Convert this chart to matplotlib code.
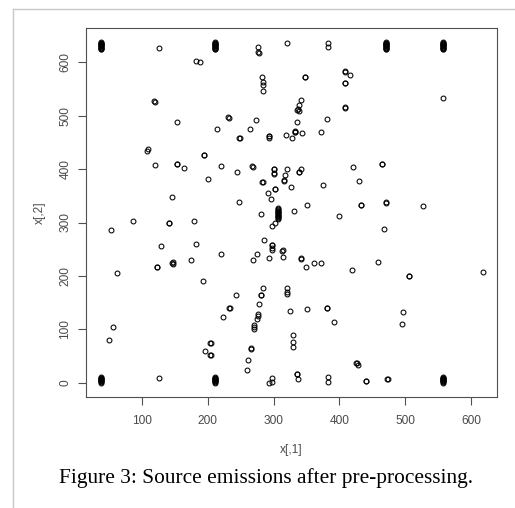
#!/usr/bin/env python3
"""
Scatter of source emission positions (x[,1] vs x[,2]) after pre-processing,
drawn in the plain base-R style with open circles and a serif figure caption.
"""

import matplotlib

matplotlib.use("Agg")
import matplotlib.pyplot as plt
from matplotlib.lines import Line2D

# Stacked sources at the grid corners: many emissions sharing one x position
STACK_TOP_X = [39, 211, 471, 557]
STACK_TOP_Y = [625, 626, 627, 628, 629, 630, 631, 632, 633, 634, 635, 636, 637, 638]
STACK_BOTTOM_X = [39, 211, 557]
STACK_BOTTOM_Y = [0, 1, 2, 3, 4, 5, 6, 7, 8, 9, 10]

# Dense column of sources near the centre of the field
CENTRE_X = 306.3
CENTRE_Y = [307, 308.5, 310, 311.5, 313, 314.5, 316, 317.5, 319, 320.5, 322, 323.5, 325, 326.5]

# Individual source emissions (repeated entries are coincident detections)
SRC_X = [
    126, 277, 277, 278, 320, 383, 383, 183, 188, 282,
    284.5, 284.5, 284.5, 347, 348, 408, 409, 416, 408, 409,
    557, 119, 120, 341, 339, 337, 338, 336, 408, 409,
    231, 232, 153, 273, 381, 335, 214, 264, 248, 248.5,
    293, 293.5, 293, 319, 327.5, 332.5, 333, 333, 343.5, 371.5,
    108, 109, 194, 194.5, 120, 153, 153.5, 164, 220, 244,
    268, 269, 300, 300.5, 300, 300.5, 320, 317.5, 341, 338.5,
    339, 420, 464, 464.5, 201, 316, 316.5, 283, 283.5, 302,
    302.5, 326.5, 374.5, 430, 291, 295.7, 145.5, 248, 350.3, 432.7,
    433, 470.8, 471, 527.3,
    281.5, 331.6, 399.8, 302.2, 297.2, 86.5, 141.5, 142, 179.3,
    53.4, 467.6, 285.5, 297.2, 297.5, 297.2, 297, 129.3, 182, 313.4,
    313.8, 314.5, 219.8, 274.5, 293.6, 268.4, 341.7, 342, 348.8, 362,
    372, 419, 458.2, 505, 505.5, 617.3, 63, 122.7, 123, 147,
    147, 146.5, 174.3, 192.5, 284.5, 281, 281.5, 242.6, 320, 320,
    320.5, 277.4, 233, 233.5, 325.5, 350.3, 380.8, 381, 497, 223.8,
    276, 276, 275.5, 391.7, 494.6, 271, 271, 270.5, 56.2, 50.9,
    329, 329, 330, 204, 204.5, 196.5, 204, 204.5, 265.8, 266,
    261.5, 260.5, 425.5, 426, 427.6, 126.3, 298.2, 293.1, 298.2, 335,
    335.5, 337.6, 383.4, 383.4, 440.3, 440.5, 472.6, 473,
]
SRC_Y = [
    628, 629, 619, 618, 636, 636, 629, 602, 600, 572.5,
    564, 558, 546, 572.5, 573, 583, 584, 577, 561, 562,
    533, 527, 526, 530, 520, 512, 509, 511, 516, 515,
    497, 496, 488.6, 491.5, 494.5, 489, 474.5, 474.5, 458, 459,
    462.5, 463, 458, 464, 458.5, 469, 470, 471, 467.5, 470.5,
    434, 437, 426.5, 427, 408, 409.5, 410, 402.5, 406.6, 394,
    406.6, 403.6, 400.5, 401, 391, 392, 400.5, 389, 400.5, 394,
    395, 403.5, 409.8, 410, 381, 378.7, 379, 375.3, 376, 362.5,
    363, 366.8, 371, 377.2, 354.7, 343.4, 348.4, 338.5, 333, 332.8,
    333.5, 337, 337.5, 331.8,
    315.3, 321, 312.4, 299.6, 294, 302.5, 298.4, 299, 302.4,
    285.8, 287.1, 268, 257.7, 258.5, 252.7, 248.3, 255.8, 259.8, 247.5,
    248.5, 235, 240.2, 240.2, 234, 229.3, 232.2, 233, 215.8, 223.6,
    224.6, 210.8, 225.5, 199.5, 200, 206.4, 205, 216.7, 217.5, 222,
    226, 224, 229.3, 190.7, 176.4, 164.5, 165, 163.6, 176.4, 170,
    166.5, 146.7, 140, 140.5, 134.4, 138.8, 140, 140.5, 131.7, 123.8,
    129, 124.4, 120, 113.5, 109.2, 108, 104.5, 100.5, 104, 79.4,
    89, 76, 67.2, 74.4, 75, 58.5, 52, 52.5, 63.8, 64.5,
    41.9, 24.4, 36.5, 37, 32.5, 9.4, 9.4, 0, 1.5, 15.8,
    16.5, 6.2, 9.6, 0.3, 3.1, 3.6, 6.2, 6.6,
]

CAPTION = "Figure 3: Source emissions after pre-processing."
X_TICKS = [100, 200, 300, 400, 500, 600]
Y_TICKS = [0, 100, 200, 300, 400, 500, 600]

TEXT_GREY = "#4a4a4a"


def all_points():
    """Expand the stacked columns and append the individual sources."""
    xs, ys = [], []
    for sx in STACK_TOP_X:
        for sy in STACK_TOP_Y:
            xs.append(sx)
            ys.append(sy)
    for sx in STACK_BOTTOM_X:
        for sy in STACK_BOTTOM_Y:
            xs.append(sx)
            ys.append(sy)
    for cy in CENTRE_Y:
        xs.append(CENTRE_X)
        ys.append(cy)
    return xs + SRC_X, ys + SRC_Y


def main() -> None:
    fig = plt.figure(figsize=(5.15, 5.08), dpi=100)
    fig.patch.set_facecolor("white")

    # page frame lines at the top and left
    fig.add_artist(Line2D([13.3 / 515, 13.3 / 515], [0, 1 - 9.3 / 508],
                          color="#c8c8c8", linewidth=1.0))
    fig.add_artist(Line2D([13.3 / 515, 1], [1 - 9.3 / 508, 1 - 9.3 / 508],
                          color="#c8c8c8", linewidth=1.0))

    ax = fig.add_axes([86 / 515, 111.3 / 508, 411.3 / 515, 368.4 / 508])

    xs, ys = all_points()
    ax.plot(xs, ys, linestyle="none", marker="o", markersize=3.5,
            markerfacecolor="none", markeredgecolor="black",
            markeredgewidth=0.75)

    ax.set_xlim(15.5, 639.5)
    ax.set_ylim(-26.5, 664)
    ax.set_xticks(X_TICKS)
    ax.set_yticks(Y_TICKS)
    ax.set_yticklabels([str(t) for t in Y_TICKS], rotation=90, va="center")

    for spine in ax.spines.values():
        spine.set_color("#505050")
        spine.set_linewidth(0.8)
    ax.tick_params(axis="both", direction="out", length=5.5, width=0.8,
                   color="#505050", labelcolor=TEXT_GREY, labelsize=8.6,
                   labelfontfamily="Liberation Sans")
    ax.tick_params(axis="x", pad=8)
    ax.tick_params(axis="y", pad=5)

    fig.text(291.5 / 515, 1 - 450 / 508, "x[,1]", ha="center", va="center",
             fontsize=8.6, color=TEXT_GREY, family="Liberation Sans")
    fig.text(40 / 515, 1 - 212.5 / 508, "x[,2]", ha="center", va="center",
             rotation=90, fontsize=8.6, color=TEXT_GREY,
             family="Liberation Sans")

    fig.text(265.8 / 515, 1 - 483 / 508, CAPTION, ha="center",
             va="baseline", fontsize=15.4, color="black",
             family="Liberation Serif")

    fig.savefig("out.png", dpi=100, facecolor="white")
    plt.close(fig)


if __name__ == "__main__":
    main()
